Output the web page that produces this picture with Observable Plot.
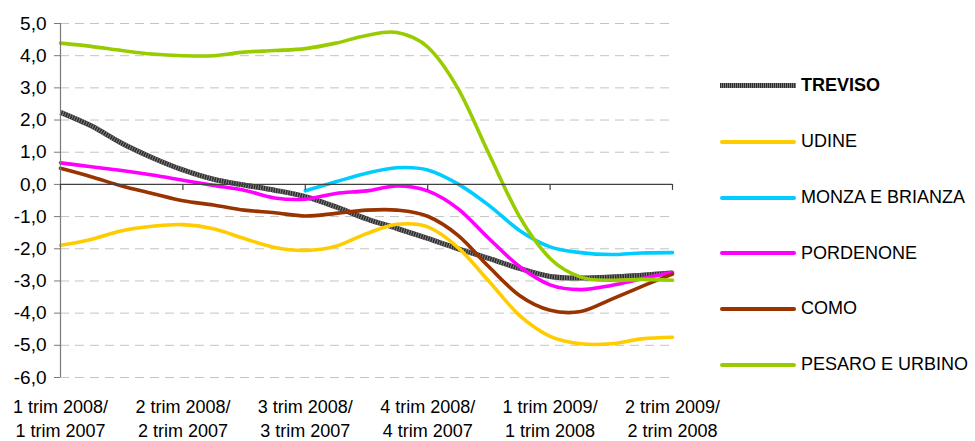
<!DOCTYPE html>
<html><head><meta charset="utf-8">
<script src="https://cdn.jsdelivr.net/npm/d3@7"></script>
<script src="https://cdn.jsdelivr.net/npm/@observablehq/plot@0.6"></script>
<style>
body{margin:0;background:#fff;font-family:"Liberation Sans",Arial,sans-serif;}
#wrap{position:relative;width:975px;height:441px;overflow:hidden;}
.item{position:absolute;left:720px;height:20px;margin-top:-10px;display:flex;align-items:center;font-size:18px;color:#000;white-space:nowrap;}
.swatch{width:76px;height:4px;margin-right:5px;border-radius:2px;}
</style></head><body><div id="wrap"></div>
<script>
// x positions (21 steps, a quarter label every 4 steps)
const steps = [0,1,2,3,4,5,6,7,8,9,10,11,12,13,14,15,16,17,18,19,20];
const quarterTicks = [0,4,8,12,16,20];
const quarterLabels = [
  "1 trim 2008/\n1 trim 2007",
  "2 trim 2008/\n2 trim 2007",
  "3 trim 2008/\n3 trim 2007",
  "4 trim 2008/\n4 trim 2007",
  "1 trim 2009/\n1 trim 2008",
  "2 trim 2009/\n2 trim 2008"
];
const yTicks = [5,4,3,2,1,0,-1,-2,-3,-4,-5,-6];
const seriesNames = ["TREVISO","UDINE","MONZA E BRIANZA","PORDENONE","COMO","PESARO E URBINO"];
const seriesColors = ["#333333","#FFCC00","#00CCFF","#FF00FF","#993300","#99CC00"];

const treviso   = [2.24,1.82,1.28,0.83,0.45,0.16,-0.02,-0.18,-0.38,-0.70,-1.07,-1.37,-1.68,-2.00,-2.30,-2.61,-2.86,-2.91,-2.88,-2.82,-2.75];
const udine     = [-1.89,-1.71,-1.44,-1.30,-1.25,-1.38,-1.68,-1.96,-2.05,-1.92,-1.53,-1.24,-1.32,-1.97,-3.01,-4.07,-4.72,-4.95,-4.95,-4.80,-4.75];
const monza     = [null,null,null,null,null,null,null,null,-0.20,0.08,0.35,0.52,0.45,0.01,-0.65,-1.43,-1.94,-2.12,-2.18,-2.13,-2.12];
const pordenone = [0.67,0.55,0.43,0.29,0.13,-0.03,-0.18,-0.42,-0.46,-0.28,-0.20,-0.05,-0.20,-0.76,-1.68,-2.55,-3.12,-3.27,-3.14,-2.93,-2.74];
const como      = [0.50,0.24,-0.05,-0.28,-0.51,-0.64,-0.80,-0.88,-0.98,-0.90,-0.80,-0.80,-0.99,-1.59,-2.56,-3.45,-3.91,-3.95,-3.57,-3.17,-2.79];
const pesaro    = [4.39,4.29,4.16,4.05,4.00,4.00,4.11,4.16,4.22,4.39,4.63,4.72,4.27,2.96,0.95,-1.00,-2.30,-2.88,-2.98,-2.95,-2.98];

const allSeries = [treviso, udine, monza, pordenone, como, pesaro];
const rows = [];
allSeries.forEach((vals, s) => vals.forEach((v, i) => {
  if (v != null) rows.push({series: seriesNames[s], step: steps[i], value: v});
}));
const bySeries = name => rows.filter(r => r.series === name);

const fmt = v => (v < 0 ? "-" : "") + Math.abs(v).toFixed(1).replace(".", ",");
const font = '"Liberation Sans", Arial, sans-serif';

const lineMarks = [];
seriesNames.forEach((name, s) => {
  if (s === 0) {
    lineMarks.push(Plot.line(bySeries(name), {x: "step", y: "value", curve: "cardinal", stroke: "#2e2e2e", strokeWidth: 5, strokeLinecap: "butt"}));
    lineMarks.push(Plot.line(bySeries(name), {x: "step", y: "value", curve: "cardinal", stroke: "#8c8c8c", strokeWidth: 5, strokeDasharray: "0.9,1.6", strokeLinecap: "butt"}));
  } else {
    lineMarks.push(Plot.line(bySeries(name), {x: "step", y: "value", curve: "cardinal", stroke: seriesColors[s], strokeWidth: 3.6, strokeLinecap: "round"}));
  }
});

const chart = Plot.plot({
  width: 975, height: 441,
  marginLeft: 60, marginRight: 303, marginTop: 23, marginBottom: 64,
  style: {fontFamily: font, fontSize: "18px", background: "#fff", color: "#000"},
  x: {type: "linear", domain: [0, 20], axis: null},
  y: {domain: [-6, 5], axis: null},
  marks: [
    Plot.ruleY(yTicks.filter(d => d !== 0), {stroke: "#c4c4c4", strokeWidth: 1, strokeDasharray: "9,6"}),
    Plot.axisY({ticks: yTicks, tickFormat: fmt, tickSize: 6, tickPadding: 8, stroke: "#7a7a7a", fill: "#000", fontSize: 19, label: null}),
    Plot.axisX({ticks: quarterTicks, tickFormat: t => quarterLabels[quarterTicks.indexOf(t)], tickSize: 0, tickPadding: 18, lineHeight: 1.36, fill: "#000", fontSize: 18, label: null}),
    ...lineMarks,
    Plot.ruleX([0], {stroke: "#7a7a7a", strokeWidth: 1.2}),
    Plot.ruleY([0], {stroke: "#404040", strokeWidth: 1.2}),
    Plot.ruleX(quarterTicks, {y1: 0, y2: 0, insetBottom: -6, stroke: "#404040", strokeWidth: 1.2})
  ]
});

const wrap = document.getElementById("wrap");
wrap.appendChild(chart);

const legendY = [85, 141.5, 197.5, 253, 308.5, 364.5];
seriesNames.forEach((name, s) => {
  const item = document.createElement("div");
  item.className = "item";
  item.style.top = legendY[s] + "px";
  const sw = document.createElement("div");
  sw.className = "swatch";
  if (s === 0) {
    sw.style.height = "5px";
    sw.style.borderRadius = "0";
    sw.style.background = "repeating-linear-gradient(90deg,#2e2e2e 0 1px,#7c7c7c 1px 2px)";
  } else {
    sw.style.background = seriesColors[s];
  }
  const label = document.createElement("span");
  label.textContent = name;
  if (s === 0) label.style.fontWeight = "bold";
  item.appendChild(sw);
  item.appendChild(label);
  wrap.appendChild(item);
});
</script></body></html>
